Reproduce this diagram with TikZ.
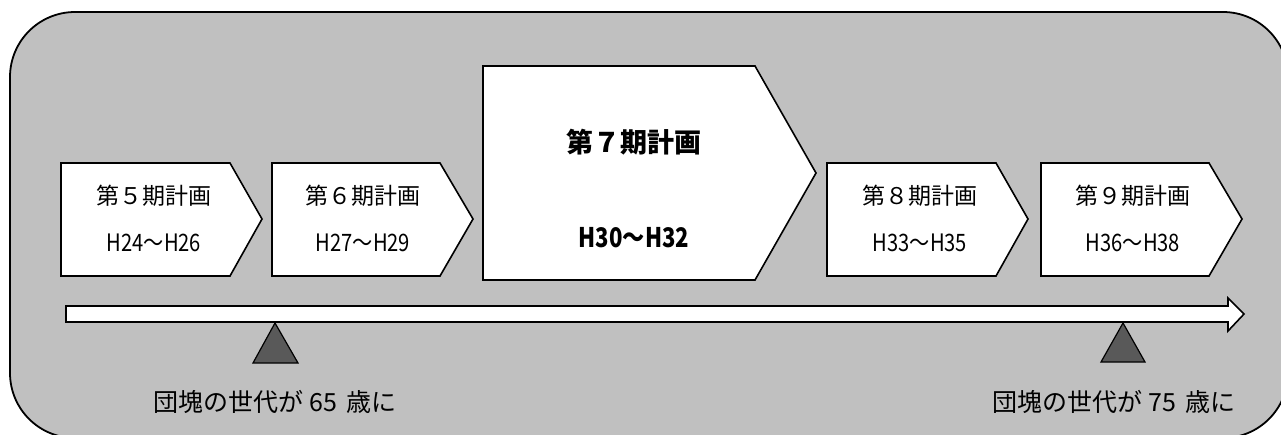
\documentclass[tikz,border=0pt]{standalone}
\usepackage{fontspec}
\setmainfont{Noto Sans CJK JP}
\newfontfamily\jpnarrow[FakeStretch=0.84]{Noto Sans CJK JP}
\newfontfamily\jpbignarrow[FakeStretch=0.82]{Noto Sans CJK JP}
\definecolor{bggray}{HTML}{C0C0C0}
\definecolor{markgray}{HTML}{595959}
\begin{document}
\begin{tikzpicture}[x=1pt,y=-1pt,
  panel/.style={draw=black,line width=1.8pt,fill=bggray,rounded corners=65pt},
  phasebox/.style={draw=black,line width=1.6pt,fill=white,line join=miter},
  timeline/.style={draw=black,line width=1.6pt,fill=white},
  marker/.style={draw=black,line width=1.2pt,fill=markgray},
  title/.style={font=\fontsize{23pt}{25pt}\selectfont,inner sep=0pt},
  period/.style={font=\jpnarrow\fontsize{24pt}{26pt}\selectfont,inner sep=0pt},
  bigtitle/.style={font=\bfseries\fontsize{27pt}{29pt}\selectfont,inner sep=0pt},
  bigperiod/.style={font=\jpbignarrow\bfseries\fontsize{27pt}{29pt}\selectfont,inner sep=0pt},
  note/.style={font=\fontsize{25pt}{27pt}\selectfont,inner sep=0pt}]
\useasboundingbox (0,0) rectangle (1281,434);
% background panel
\draw[panel] (10,12) rectangle (1288,438);
% phase boxes
\draw[phasebox] (61,163) -- (230,163) -- (262,219) -- (230,276) -- (61,276) -- cycle;
\draw[phasebox] (272,163) -- (440,163) -- (473,219) -- (440,276) -- (272,276) -- cycle;
\draw[phasebox] (483,66) -- (755,66) -- (816,173) -- (755,280) -- (483,280) -- cycle;
\draw[phasebox] (827,163) -- (996,163) -- (1028,219) -- (996,276) -- (827,276) -- cycle;
\draw[phasebox] (1041,163) -- (1209,163) -- (1242,219) -- (1209,276) -- (1041,276) -- cycle;
% texts
\node[title] (t5) at (154,196) {第５期計画};
\node[period] (p5) at (154,243) {H24～H26};
\node[title] (t6) at (363,196) {第６期計画};
\node[period] (p6) at (363,243) {H27～H29};
\node[bigtitle] (t7) at (634,142) {第７期計画};
\node[bigperiod] (p7) at (634,238) {H30～H32};
\node[title] (t8) at (920,196) {第８期計画};
\node[period] (p8) at (920,243) {H33～H35};
\node[title] (t9) at (1133,196) {第９期計画};
\node[period] (p9) at (1133,243) {H36～H38};
% timeline arrow
\draw[timeline] (66,306) -- (1228,306) -- (1228,298) -- (1244,314) -- (1228,331) -- (1228,322) -- (66,322) -- cycle;
% markers
\draw[marker] (275,323) -- (298,363) -- (253,363) -- cycle;
\draw[marker] (1123,323) -- (1145,362) -- (1101,362) -- cycle;
\node[note] (n65) at (275,402) {団塊の世代が\hspace{0.25em}65\hspace{0.35em}歳に};
\node[note] (n75) at (1114,402) {団塊の世代が\hspace{0.25em}75\hspace{0.35em}歳に};
\end{tikzpicture}
\end{document}
